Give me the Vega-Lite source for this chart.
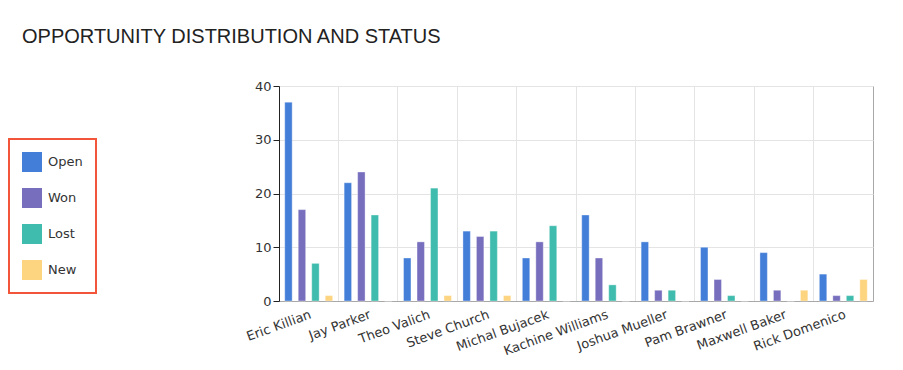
{
  "$schema": "https://vega.github.io/schema/vega-lite/v6.json",
  "width": 594,
  "height": 215,
  "autosize": {"type": "none"},
  "padding": {"left": 279, "top": 86, "right": 30, "bottom": 69},
  "background": "white",
  "title": {
    "text": "OPPORTUNITY DISTRIBUTION AND STATUS",
    "anchor": "start",
    "frame": "group",
    "dx": -257,
    "offset": 17,
    "font": "Liberation Sans",
    "fontSize": 20,
    "fontWeight": "normal",
    "color": "#222222",
    "baseline": "alphabetic"
  },
  "data": {
    "values": [
      {"rep": "Eric Killian", "status": "Open", "count": 37},
      {"rep": "Eric Killian", "status": "Won", "count": 17},
      {"rep": "Eric Killian", "status": "Lost", "count": 7},
      {"rep": "Eric Killian", "status": "New", "count": 1},
      {"rep": "Jay Parker", "status": "Open", "count": 22},
      {"rep": "Jay Parker", "status": "Won", "count": 24},
      {"rep": "Jay Parker", "status": "Lost", "count": 16},
      {"rep": "Jay Parker", "status": "New", "count": 0},
      {"rep": "Theo Valich", "status": "Open", "count": 8},
      {"rep": "Theo Valich", "status": "Won", "count": 11},
      {"rep": "Theo Valich", "status": "Lost", "count": 21},
      {"rep": "Theo Valich", "status": "New", "count": 1},
      {"rep": "Steve Church", "status": "Open", "count": 13},
      {"rep": "Steve Church", "status": "Won", "count": 12},
      {"rep": "Steve Church", "status": "Lost", "count": 13},
      {"rep": "Steve Church", "status": "New", "count": 1},
      {"rep": "Michal Bujacek", "status": "Open", "count": 8},
      {"rep": "Michal Bujacek", "status": "Won", "count": 11},
      {"rep": "Michal Bujacek", "status": "Lost", "count": 14},
      {"rep": "Michal Bujacek", "status": "New", "count": 0},
      {"rep": "Kachine Williams", "status": "Open", "count": 16},
      {"rep": "Kachine Williams", "status": "Won", "count": 8},
      {"rep": "Kachine Williams", "status": "Lost", "count": 3},
      {"rep": "Kachine Williams", "status": "New", "count": 0},
      {"rep": "Joshua Mueller", "status": "Open", "count": 11},
      {"rep": "Joshua Mueller", "status": "Won", "count": 2},
      {"rep": "Joshua Mueller", "status": "Lost", "count": 2},
      {"rep": "Joshua Mueller", "status": "New", "count": 0},
      {"rep": "Pam Brawner", "status": "Open", "count": 10},
      {"rep": "Pam Brawner", "status": "Won", "count": 4},
      {"rep": "Pam Brawner", "status": "Lost", "count": 1},
      {"rep": "Pam Brawner", "status": "New", "count": 0},
      {"rep": "Maxwell Baker", "status": "Open", "count": 9},
      {"rep": "Maxwell Baker", "status": "Won", "count": 2},
      {"rep": "Maxwell Baker", "status": "Lost", "count": 0},
      {"rep": "Maxwell Baker", "status": "New", "count": 2},
      {"rep": "Rick Domenico", "status": "Open", "count": 5},
      {"rep": "Rick Domenico", "status": "Won", "count": 1},
      {"rep": "Rick Domenico", "status": "Lost", "count": 1},
      {"rep": "Rick Domenico", "status": "New", "count": 4}
    ]
  },
  "mark": {"type": "bar", "stroke": "white", "strokeOpacity": 0.35, "strokeWidth": 1},
  "encoding": {
    "x": {
      "field": "rep",
      "type": "nominal",
      "sort": null,
      "scale": {"paddingInner": 0, "paddingOuter": 0},
      "axis": {
        "title": null,
        "bandPosition": 0,
        "labelOffset": 0,
        "labelAngle": -20,
        "labelAlign": "right",
        "labelBaseline": "top",
        "labelPadding": 7,
        "ticks": false,
        "grid": true,
        "gridColor": "#e4e4e4",
        "domainColor": "#a8a8a8",
        "labelFont": "DejaVu Sans",
        "labelFontSize": 13,
        "labelColor": "#333333",
        "labelLimit": 300
      }
    },
    "xOffset": {
      "field": "status",
      "type": "nominal",
      "sort": ["Open", "Won", "Lost", "New"],
      "scale": {"paddingInner": 0.45, "paddingOuter": 0.425}
    },
    "y": {
      "field": "count",
      "type": "quantitative",
      "scale": {"domain": [0, 40], "nice": false},
      "axis": {
        "title": null,
        "values": [0, 10, 20, 30, 40],
        "grid": true,
        "gridColor": "#e4e4e4",
        "domainColor": "#222222",
        "tickColor": "#222222",
        "tickSize": 6,
        "labelPadding": 2,
        "labelFont": "DejaVu Sans",
        "labelFontSize": 13,
        "labelColor": "#333333"
      }
    },
    "color": {
      "field": "status",
      "type": "nominal",
      "sort": ["Open", "Won", "Lost", "New"],
      "scale": {
        "domain": ["Open", "Won", "Lost", "New"],
        "range": ["#437ed8", "#776fbe", "#3fbcad", "#fdd47f"]
      },
      "legend": {
        "title": null,
        "orient": "none",
        "legendX": -270,
        "legendY": 53,
        "direction": "vertical",
        "symbolType": "square",
        "symbolSize": 400,
        "symbolStrokeWidth": 0,
        "symbolOpacity": 1,
        "rowPadding": 16,
        "labelOffset": 6,
        "labelFont": "DejaVu Sans",
        "labelFontSize": 13,
        "labelColor": "#333333",
        "labelExpr": "datum.label + '\u00a0\u00a0\u00a0\u00a0\u00a0'",
        "padding": 13,
        "strokeColor": "#f2553a"
      }
    }
  },
  "config": {
    "view": {"stroke": "#a8a8a8"},
    "legend": {"strokeWidth": 2}
  }
}
